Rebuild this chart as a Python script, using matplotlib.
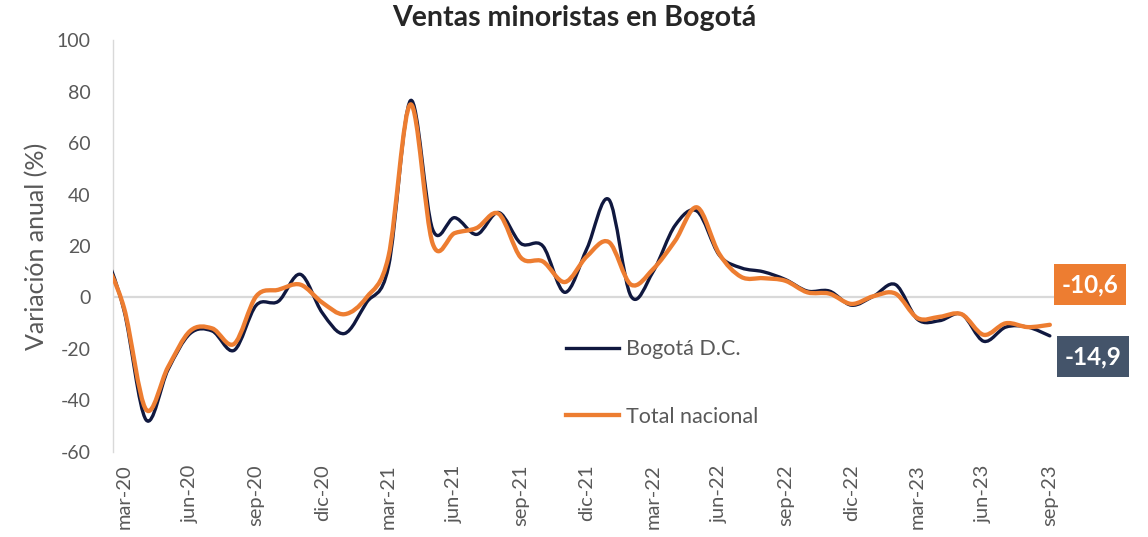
import numpy as np
import matplotlib
matplotlib.use("Agg")
import matplotlib.pyplot as plt
from matplotlib.path import Path
from matplotlib.patches import PathPatch, Rectangle

# ── Data (variación anual %) ───────────────────────────────────────────────
MONTHS = [
    "feb-20", "mar-20", "abr-20", "may-20", "jun-20", "jul-20", "ago-20", "sep-20",
    "oct-20", "nov-20", "dic-20", "ene-21", "feb-21", "mar-21", "abr-21", "may-21",
    "jun-21", "jul-21", "ago-21", "sep-21", "oct-21", "nov-21", "dic-21", "ene-22",
    "feb-22", "mar-22", "abr-22", "may-22", "jun-22", "jul-22", "ago-22", "sep-22",
    "oct-22", "nov-22", "dic-22", "ene-23", "feb-23", "mar-23", "abr-23", "may-23",
    "jun-23", "jul-23", "ago-23", "sep-23",
]
BOGOTA = [
    21, -5, -47.5, -28, -14, -13, -20.5, -3, -1.5, 9, -6, -14, -2, 12, 76.5, 26.5,
    31, 24.5, 33, 21, 20, 2, 19, 38, 0.5, 10, 28, 33.5, 16.5, 11.5, 10, 7,
    2.5, 2.5, -3, 0.5, 5, -8.5, -9, -6.5, -17, -11.5, -11.5, -14.9,
]
NACIONAL = [
    17, -4, -43.5, -27, -13, -12, -18, 0.5, 3, 5, -2, -6.5, 0, 16, 75, 21,
    25, 27, 32.5, 15.5, 14, 6, 16, 21.5, 5, 11, 22, 35, 17, 8, 7.5, 6.5,
    2, 1.5, -2.5, 0.5, 1.5, -8, -7.5, -6.5, -14.5, -10, -11.5, -10.6,
]
TICK_LABELS = ["mar-20", "jun-20", "sep-20", "dic-20", "mar-21", "jun-21", "sep-21",
               "dic-21", "mar-22", "jun-22", "sep-22", "dic-22", "mar-23", "jun-23",
               "sep-23"]

NAVY   = "#10183F"
ORANGE = "#ED7D31"
SLATE  = "#44546A"
GREY   = "#595959"
LIGHT  = "#D9D9D9"

plt.rcParams["font.family"] = ["Lato", "DejaVu Sans"]
plt.rcParams["axes.unicode_minus"] = False


# ── Excel-style smoothed line (cubic Bezier through the points) ────────────
def smooth_path(x, y):
    pts = np.column_stack([x, y]).astype(float)
    n = len(pts)
    verts = [pts[0]]
    codes = [Path.MOVETO]
    for i in range(n - 1):
        p0 = pts[max(i - 1, 0)]
        p1 = pts[i]
        p2 = pts[i + 1]
        p3 = pts[min(i + 2, n - 1)]
        verts += [p1 + (p2 - p0) / 6, p2 - (p3 - p1) / 6, p2]
        codes += [Path.CURVE4] * 3
    return Path(verts, codes)


x = np.arange(len(MONTHS)) - 1   # mar-20 sits at 0

fig = plt.figure(figsize=(11.48, 5.37), dpi=100)
ax = fig.add_axes([0.0984, 0.1583, 0.8257, 0.7672])

ax.axhline(0, color=LIGHT, linewidth=1.6, zorder=1)
for vals, col, lw, lab in [(BOGOTA, NAVY, 2.4, "Bogotá D.C."),
                           (NACIONAL, ORANGE, 3.1, "Total nacional")]:
    patch = PathPatch(smooth_path(x, vals), facecolor="none", edgecolor=col,
                      linewidth=lw, capstyle="round", joinstyle="round", zorder=3)
    ax.add_patch(patch)
    ax.plot([], [], color=col, linewidth=lw, label=lab)

ax.set_xlim(-0.5, 42.5)
ax.set_ylim(-60, 100)
ax.set_yticks(np.arange(-60, 101, 20))
ax.set_xticks(np.arange(0, 43, 3))
ax.set_xticklabels(TICK_LABELS, rotation=90)
ax.tick_params(axis="y", length=0, pad=16, labelsize=14, labelcolor=GREY)
ax.tick_params(axis="x", length=0, pad=9, labelsize=14.5, labelcolor=GREY)

for s in ["top", "right", "bottom"]:
    ax.spines[s].set_visible(False)
ax.spines["left"].set_color(LIGHT)
ax.spines["left"].set_linewidth(1.0)

ax.set_ylabel("Variación anual (%)", fontsize=18, color=GREY, labelpad=6)
fig.suptitle("Ventas minoristas en Bogotá", x=0.5, y=0.99, fontsize=20.5,
             fontweight="bold", color="#262626")

leg = ax.legend(loc="upper left", bbox_to_anchor=(0.4665, 0.30), frameon=False,
                fontsize=15.5, labelspacing=2.2, handlelength=2.45,
                handletextpad=0.35, borderpad=0)
for t in leg.get_texts():
    t.set_color(GREY)

# end-value boxes
W, H = 1148, 537
for val, col, (x0, y0, w, h) in [(NACIONAL[-1], ORANGE, (1054, 264, 72, 41)),
                                 (BOGOTA[-1], SLATE, (1057, 336, 72, 41))]:
    fig.patches.append(Rectangle((x0 / W, 1 - (y0 + h) / H), w / W, h / H,
                                 transform=fig.transFigure, facecolor=col,
                                 edgecolor="none", zorder=5))
    fig.text((x0 + w / 2) / W, 1 - (y0 + h / 2) / H,
             f"{val:.1f}".replace(".", ","), color="white", fontsize=17.5,
             fontweight="bold", ha="center", va="center", zorder=6)

fig.savefig("out.png", dpi=100)
